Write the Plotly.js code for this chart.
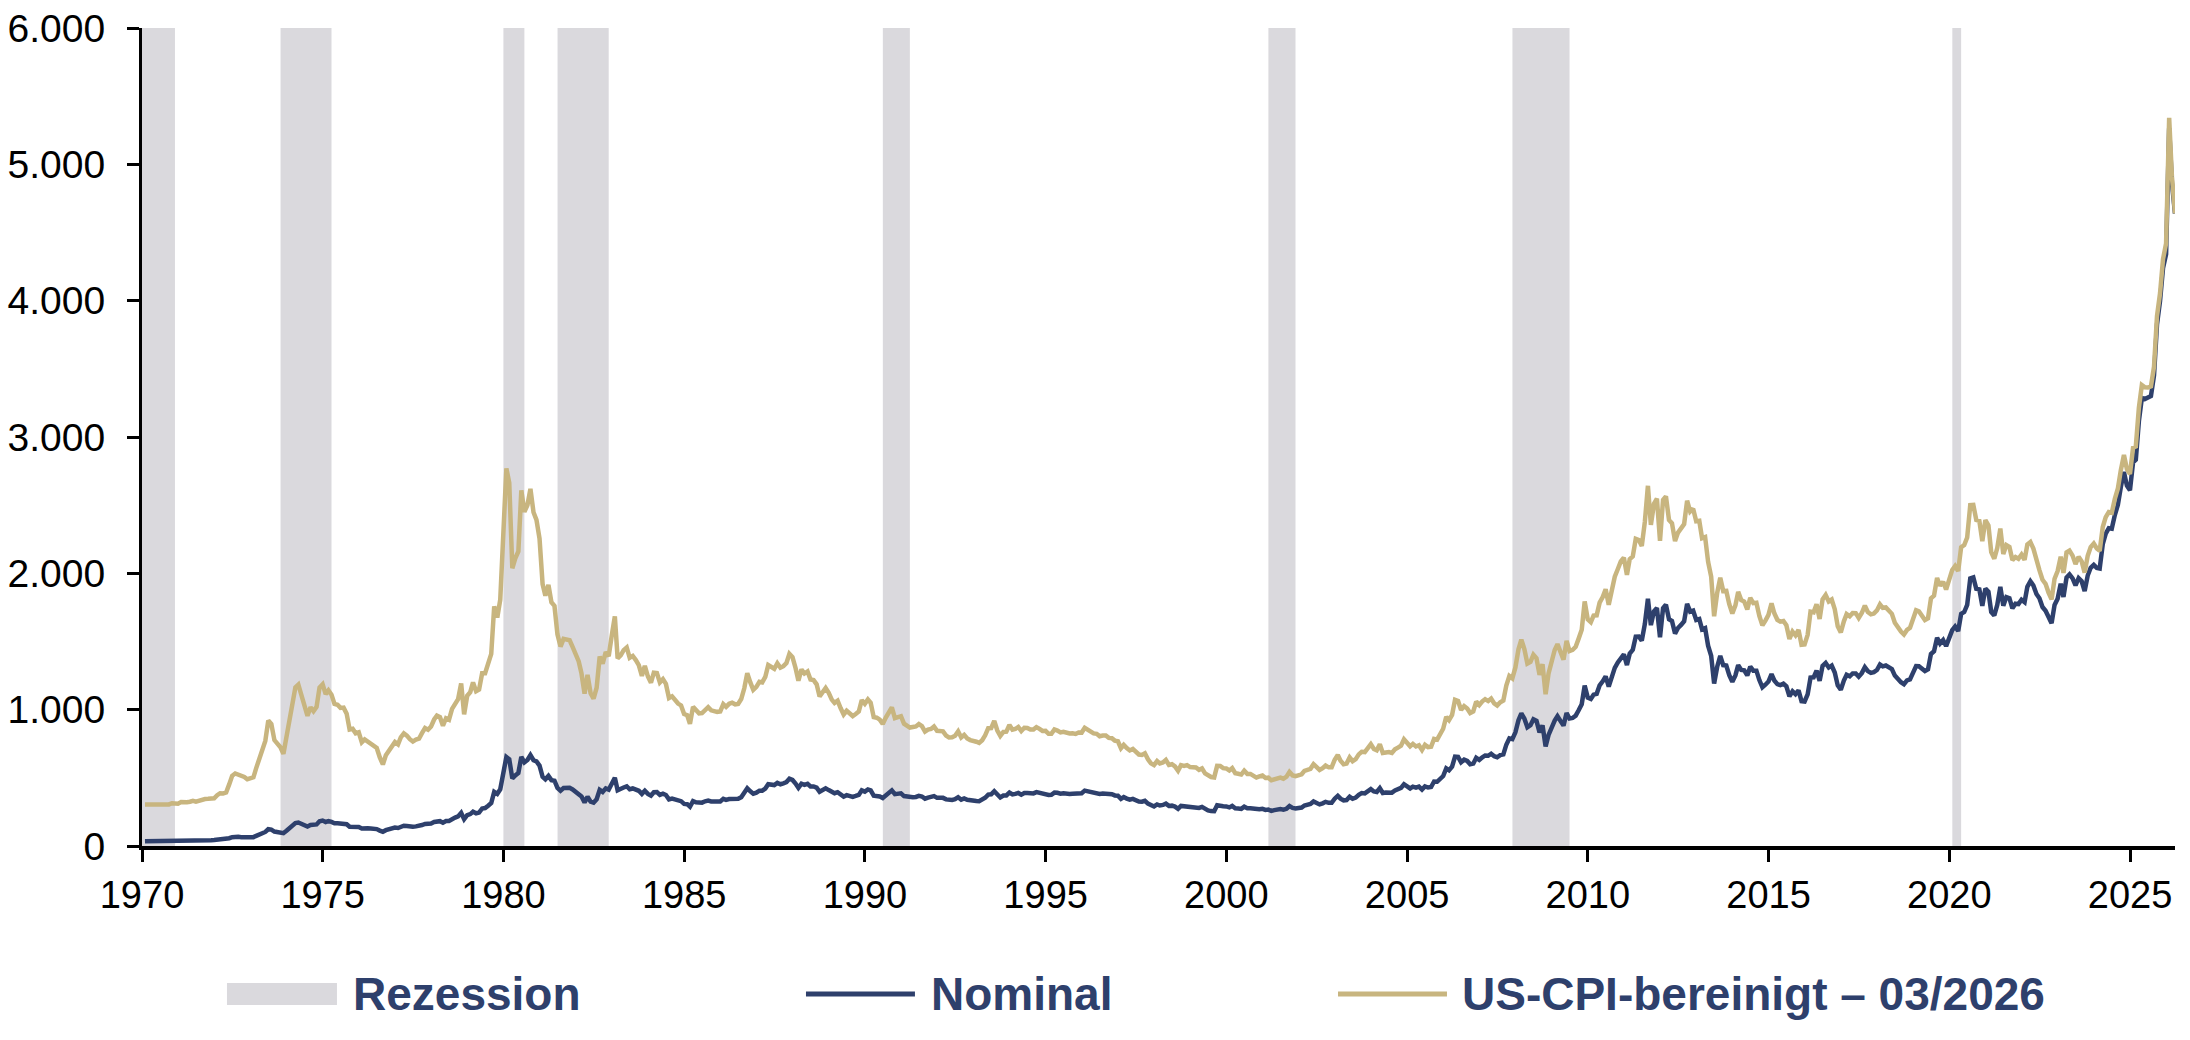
<!DOCTYPE html>
<html>
<head>
<meta charset="utf-8">
<script src="https://cdn.plot.ly/plotly-3.0.1.min.js"></script>
<style>
html,body{margin:0;padding:0;background:#fff;}
#chart{width:2190px;height:1040px;}
</style>
</head>
<body>
<div id="chart"></div>
<script>
// Gold price (USD/oz), month-end values, Jan 1970 - Mar 2026
const startYear = 1970;
const nominal = [
35,35,35,36,36,35,35,35,36,38,37,37,
39,39,39,40,41,40,41,43,43,43,43,44,
46,48,48,49,57,65,68,67,65,65,63,64,
65,74,84,91,103,123,120,106,103,100,94,112,
129,150,168,172,163,154,143,154,152,158,182,187,
176,182,177,167,167,165,167,160,141,143,139,140,
128,132,130,128,126,124,113,104,116,123,130,135,
132,143,149,147,143,141,144,146,154,162,160,165,
176,182,182,171,183,183,200,208,217,243,197,226,
234,251,240,245,275,278,296,315,397,382,416,524,
653,637,495,518,536,654,614,631,667,629,620,590,
507,489,514,483,479,426,406,425,429,427,415,398,
387,363,320,361,325,318,343,412,397,423,414,457,
500,409,415,429,438,416,422,414,405,382,405,382,
370,394,395,375,384,374,342,348,341,334,329,309,
307,288,329,321,316,318,328,333,327,325,325,327,
346,338,344,346,343,346,358,385,423,401,384,391,
406,406,421,453,451,447,463,453,460,469,493,484,
458,426,457,449,456,437,437,428,398,412,423,410,
394,387,395,378,362,373,368,360,367,375,408,399,
415,408,369,368,363,352,372,388,408,380,385,386,
366,363,356,358,360,368,363,347,355,357,366,353,
354,353,342,336,338,343,358,340,349,339,334,333,
330,328,338,354,377,379,402,372,356,370,371,392,
378,382,389,376,388,388,384,386,395,389,383,383,
375,376,392,390,384,387,383,382,384,383,388,387,
406,401,396,391,391,382,385,386,379,380,371,369,
346,359,348,340,346,335,326,325,332,311,297,290,
305,297,301,311,294,296,289,273,294,292,295,288,
285,287,279,287,269,261,256,255,299,299,291,290,
283,294,277,275,272,288,277,277,274,265,269,273,
265,267,258,263,268,271,266,273,293,279,276,277,
282,297,301,308,327,319,305,313,324,317,317,347,
368,347,335,337,361,346,355,376,388,386,398,417,
400,396,424,389,393,396,391,407,416,426,453,436,
422,435,428,436,414,437,429,433,473,471,496,513,
569,556,582,655,653,614,633,624,599,604,647,632,
651,664,662,677,659,651,666,672,743,790,784,834,
923,972,934,871,886,930,918,833,885,731,815,870,
920,952,917,883,976,935,939,956,996,1040,1176,1088,
1079,1110,1116,1179,1208,1244,1169,1246,1307,1347,1384,1406,
1327,1411,1439,1536,1537,1506,1629,1814,1620,1722,1746,1531,
1744,1770,1663,1651,1558,1599,1622,1649,1776,1719,1726,1658,
1665,1589,1598,1469,1395,1192,1315,1395,1327,1324,1253,1205,
1251,1327,1292,1289,1251,1315,1286,1286,1217,1164,1183,1206,
1260,1214,1187,1180,1190,1171,1098,1135,1114,1142,1062,1060,
1112,1235,1237,1286,1212,1321,1342,1309,1323,1272,1178,1146,
1213,1256,1245,1266,1266,1242,1268,1312,1283,1270,1275,1291,
1331,1318,1324,1315,1298,1250,1224,1201,1187,1215,1222,1279,
1320,1319,1295,1283,1296,1409,1428,1528,1485,1511,1466,1523,
1583,1610,1577,1703,1716,1768,1963,1970,1887,1882,1762,1888,
1864,1717,1691,1768,1900,1763,1826,1818,1743,1777,1774,1806,
1788,1901,1942,1911,1848,1817,1753,1726,1672,1634,1768,1814,
1924,1827,1969,1992,1963,1912,1965,1942,1870,1984,2041,2062,
2040,2035,2214,2291,2331,2327,2427,2503,2635,2744,2643,2609,
2813,2833,3115,3287,3278,3287,3300,3452,3825,4000,4240,4340,
5265,4864,4640
];

// Gold price adjusted with US-CPI, in USD of 03/2026
const cpiAdjusted = [
305,304,303,305,307,301,299,299,305,314,312,310,
322,320,321,325,332,326,332,345,345,346,351,350,
373,387,385,392,452,515,532,525,510,506,490,496,
504,571,640,685,771,920,894,777,752,724,676,802,
915,1049,1163,1184,1109,1038,955,1017,989,1020,1163,1186,
1114,1142,1110,1042,1036,1013,1015,971,854,859,827,834,
761,782,765,755,733,719,650,598,665,702,741,763,
746,797,826,810,783,766,780,787,828,865,853,877,
928,956,945,882,937,926,1006,1041,1077,1193,966,1102,
1129,1200,1135,1147,1267,1267,1338,1409,1757,1676,1807,2254,
2770,2665,2037,2110,2160,2608,2451,2501,2620,2448,2392,2255,
1921,1836,1916,1788,1761,1552,1463,1519,1518,1509,1460,1396,
1354,1265,1117,1256,1121,1080,1161,1390,1338,1422,1393,1545,
1685,1377,1398,1437,1456,1380,1394,1364,1327,1248,1321,1243,
1198,1271,1269,1200,1224,1189,1085,1098,1071,1045,1031,968,
959,896,1021,992,973,975,1003,1018,995,987,984,987,
1040,1021,1043,1051,1039,1042,1078,1157,1268,1200,1146,1167,
1204,1200,1240,1327,1316,1300,1341,1308,1319,1342,1409,1385,
1306,1212,1295,1265,1280,1221,1217,1186,1096,1132,1159,1123,
1074,1050,1066,1012,965,992,977,953,968,986,1070,1043,
1075,1051,945,941,927,895,942,973,1016,938,949,952,
897,888,869,873,877,894,879,839,854,859,877,845,
846,841,810,796,797,808,841,796,815,789,777,775,
765,756,776,812,864,865,918,847,808,837,839,887,
853,858,873,843,867,866,854,854,872,859,844,845,
823,823,855,847,833,838,830,825,827,822,833,832,
867,853,840,826,823,805,810,810,793,791,773,768,
717,742,718,701,712,689,671,668,680,636,606,594,
623,606,613,631,595,600,584,552,593,588,593,579,
573,576,559,569,533,518,506,503,588,587,571,569,
554,571,534,530,524,552,529,529,520,502,510,517,
499,501,483,491,497,502,494,508,543,518,513,516,
526,551,556,566,600,584,558,571,590,577,577,633,
668,626,600,605,650,622,637,672,691,689,713,747,
712,702,746,682,686,689,682,709,722,736,783,755,
731,749,730,739,704,742,725,728,786,780,828,860,
947,923,961,1072,1064,998,1026,1009,975,987,1059,1034,
1061,1077,1063,1081,1046,1030,1054,1067,1176,1247,1230,1310,
1443,1514,1443,1338,1350,1403,1377,1255,1334,1113,1266,1366,
1438,1481,1422,1367,1505,1430,1439,1461,1521,1587,1794,1662,
1642,1690,1692,1785,1826,1883,1770,1884,1975,2032,2087,2116,
1989,2104,2125,2253,2244,2201,2379,2642,2356,2510,2547,2239,
2539,2565,2392,2368,2237,2299,2336,2361,2533,2453,2474,2382,
2385,2258,2266,2085,1976,1685,1857,1968,1870,1871,1774,1706,
1765,1864,1804,1793,1735,1821,1781,1784,1687,1618,1653,1695,
1780,1707,1659,1646,1651,1620,1519,1572,1545,1585,1476,1479,
1549,1719,1714,1773,1665,1809,1841,1794,1808,1737,1611,1567,
1648,1701,1685,1709,1708,1673,1709,1763,1716,1699,1705,1728,
1772,1747,1750,1732,1703,1638,1603,1573,1552,1585,1600,1680,
1730,1722,1682,1657,1670,1816,1836,1966,1909,1938,1881,1956,
2025,2054,2017,2192,2208,2263,2500,2502,2392,2385,2235,2391,
2351,2155,2107,2185,2329,2142,2207,2193,2097,2120,2107,2138,
2099,2211,2229,2182,2087,2024,1953,1923,1859,1809,1960,2017,
2122,2004,2153,2167,2130,2068,2121,2088,2005,2128,2193,2219,
2182,2165,2340,2412,2449,2444,2546,2623,2758,2868,2765,2728,
2921,2930,3214,3381,3364,3363,3372,3516,3886,4055,4305,4420,
5341,4908,4640
];

// US recessions (NBER)
const recessionStart = ['1969-12-01','1973-11-01','1980-01-01','1981-07-01','1990-07-01','2001-03-01','2007-12-01','2020-02-01'];
const recessionEnd   = ['1970-11-30','1975-03-31','1980-07-31','1982-11-30','1991-03-31','2001-11-30','2009-06-30','2020-04-30'];

const seriesNames = ['Rezession','Nominal','US-CPI-bereinigt – 03/2026'];
const xRange = ['1970-01-01','2026-03-31'];
const yRange = [0, 6000];

const NAVY = '#2E406C';
const GOLD = '#C8B57F';
const GREY = '#DAD9DD';
const FONT = 'Liberation Sans, Arial, Helvetica, sans-serif';

// month-end dates for each observation
function monthEnd(i){
  const y = startYear + Math.floor(i/12), m = i % 12;
  const d = new Date(Date.UTC(y, m+1, 0));
  return d.toISOString().slice(0,10);
}
const dates = nominal.map((_, i) => monthEnd(i));

const traces = [
  {x: dates, y: nominal, type:'scatter', mode:'lines', name: seriesNames[1],
   line:{color:NAVY, width:4.5}, hoverinfo:'skip'},
  {x: dates, y: cpiAdjusted, type:'scatter', mode:'lines', name: seriesNames[2],
   line:{color:GOLD, width:4.5}, hoverinfo:'skip'}
];

const shapes = recessionStart.map((s, i) => ({
  type:'rect', xref:'x', yref:'paper', x0:s, x1:recessionEnd[i], y0:0, y1:1,
  fillcolor:GREY, line:{width:0}, layer:'below'
}));

// manual legend (paper coordinates)
const legY = -0.181;
shapes.push({type:'rect', xref:'paper', yref:'paper', x0:0.0418, x1:0.0959, y0:-0.1944, y1:-0.1675,
  fillcolor:GREY, line:{width:0}});
shapes.push({type:'line', xref:'paper', yref:'paper', x0:0.3266, x1:0.3802, y0:legY, y1:legY,
  line:{color:NAVY, width:5}});
shapes.push({type:'line', xref:'paper', yref:'paper', x0:0.5883, x1:0.6419, y0:legY, y1:legY,
  line:{color:GOLD, width:5}});

const legendX = [0.1028, 0.3873, 0.6485];
const annotations = seriesNames.map((t, i) => ({
  xref:'paper', yref:'paper', x:legendX[i], y:legY, xanchor:'left', yanchor:'middle',
  text:'<b>'+t+'</b>', showarrow:false,
  font:{family:FONT, size:46, color:NAVY}
}));

const layout = {
  width:2190, height:1040,
  margin:{l:142, r:15, t:28, b:194, pad:0},
  paper_bgcolor:'#ffffff', plot_bgcolor:'#ffffff',
  separators:',.',
  showlegend:false,
  font:{family:FONT, size:38, color:'#000'},
  xaxis:{
    type:'date', range:xRange, tick0:'1970-01-01', dtick:'M60', tickformat:'%Y',
    showgrid:false, zeroline:false, showline:true, linecolor:'#000', linewidth:4,
    ticks:'outside', ticklen:12, tickwidth:3, tickcolor:'#000',
    tickfont:{family:FONT, size:38, color:'#000'}, fixedrange:true
  },
  yaxis:{
    range:yRange, dtick:1000, tick0:0, tickformat:',d',
    showgrid:false, zeroline:false, showline:true, linecolor:'#000', linewidth:3,
    ticks:'outside', ticklen:12, tickwidth:3, tickcolor:'#000',
    tickfont:{family:FONT, size:39, color:'#000'}, ticklabelstandoff:14, fixedrange:true
  },
  shapes:shapes,
  annotations:annotations
};

Plotly.newPlot('chart', traces, layout, {displayModeBar:false, staticPlot:true});
</script>
</body>
</html>
